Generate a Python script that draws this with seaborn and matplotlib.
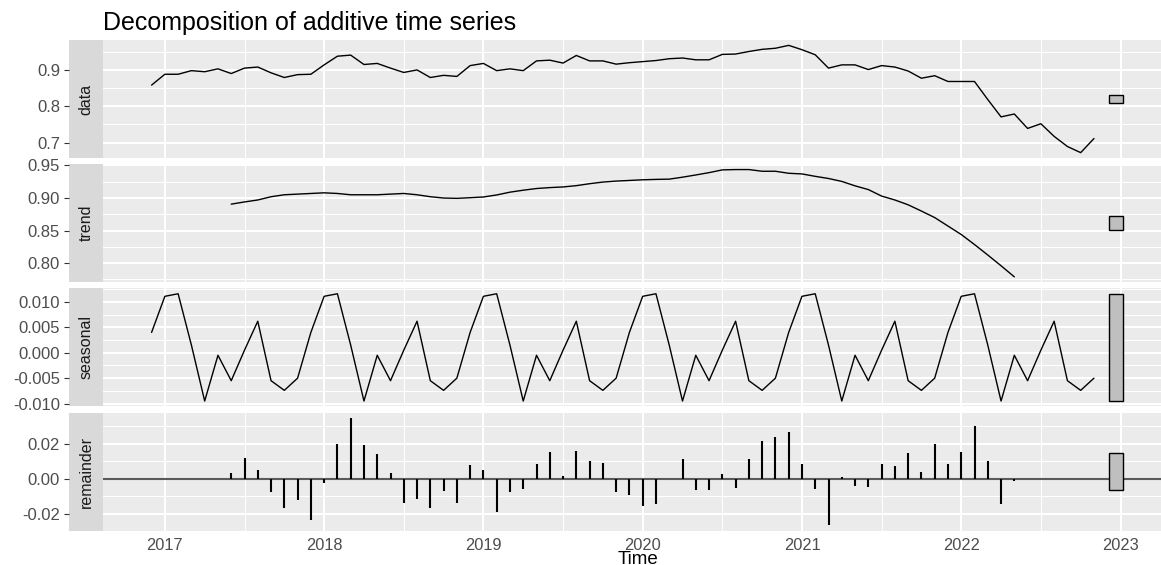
import numpy as np
import pandas as pd
import matplotlib
matplotlib.use("Agg")
import matplotlib.pyplot as plt
import seaborn as sns
from matplotlib.ticker import FixedLocator, FixedFormatter

# ---------------- data (monthly, Dec 2016 .. Nov 2022) ----------------
start_month = "2016-12"
n_months = 72

data_vals = [
    0.859,
    0.889, 0.889, 0.899, 0.896, 0.904, 0.891, 0.906, 0.909, 0.893, 0.880, 0.888, 0.889,
    0.915, 0.939, 0.942, 0.916, 0.919, 0.906, 0.894, 0.901, 0.880, 0.886, 0.883, 0.913,
    0.919, 0.899, 0.904, 0.899, 0.926, 0.928, 0.920, 0.941, 0.926, 0.926, 0.917, 0.921,
    0.924, 0.927, 0.932, 0.934, 0.929, 0.929, 0.944, 0.945, 0.952, 0.958, 0.961, 0.969,
    0.957, 0.943, 0.906, 0.915, 0.915, 0.902, 0.913, 0.909, 0.898, 0.878, 0.885, 0.869,
    0.869, 0.869, 0.819, 0.771, 0.779, 0.739, 0.752, 0.717, 0.689, 0.672, 0.711,
]

trend_vals = [np.nan] * 6 + [
    0.8906, 0.894, 0.897, 0.902, 0.905, 0.906, 0.907,
    0.908, 0.907, 0.905, 0.905, 0.905, 0.906, 0.907, 0.905, 0.902, 0.900, 0.8995, 0.9005,
    0.9016, 0.9047, 0.909, 0.912, 0.9146, 0.916, 0.917, 0.919, 0.922, 0.9245, 0.926, 0.927,
    0.928, 0.9286, 0.929, 0.932, 0.9354, 0.939, 0.9432, 0.9437, 0.9437, 0.9411, 0.9411, 0.938,
    0.937, 0.9333, 0.930, 0.9255, 0.9187, 0.913, 0.903, 0.897, 0.8896, 0.880, 0.870, 0.857,
    0.844, 0.8286, 0.8125, 0.796, 0.779,
] + [np.nan] * 6

seasonal_vals = [
    0.0040,
    0.0111, 0.0116, 0.0015, -0.0095, -0.0005, -0.0055, 0.0005, 0.0062, -0.0055, -0.0074, -0.0050, 0.0040,
    0.0111, 0.0116, 0.0015, -0.0095, -0.0005, -0.0055, 0.0005, 0.0062, -0.0055, -0.0074, -0.0050, 0.0040,
    0.0111, 0.0116, 0.0015, -0.0095, -0.0005, -0.0055, 0.0005, 0.0062, -0.0055, -0.0074, -0.0050, 0.0040,
    0.0111, 0.0116, 0.0015, -0.0095, -0.0005, -0.0055, 0.0005, 0.0062, -0.0055, -0.0074, -0.0050, 0.0040,
    0.0111, 0.0116, 0.0015, -0.0095, -0.0005, -0.0055, 0.0005, 0.0062, -0.0055, -0.0074, -0.0050, 0.0040,
    0.0111, 0.0116, 0.0015, -0.0095, -0.0005, -0.0055, 0.0005, 0.0062, -0.0055, -0.0074, -0.0050,
]

remainder_vals = [np.nan] * 6 + [
    0.0030, 0.0120, 0.0050, -0.0075, -0.0170, -0.0125, -0.0236,
    -0.0025, 0.0196, 0.0346, 0.0190, 0.0142, 0.0030, -0.0138, -0.0115, -0.0170, -0.0070, -0.0138, 0.0079,
    0.0046, -0.0194, -0.0075, -0.0060, 0.0085, 0.0152, 0.0013, 0.0158, 0.0098, 0.0090, -0.0075, -0.0092,
    -0.0156, -0.0144, 0.0000, 0.0113, -0.0065, -0.0065, 0.0025, -0.0056, 0.0113, 0.0217, 0.0240, 0.0263,
    0.0085, -0.0060, -0.0267, 0.0008, -0.0044, -0.0050, 0.0085, 0.0069, 0.0148, 0.0040, 0.0196, 0.0085,
    0.0152, 0.0302, 0.0098, -0.0148, -0.0015,
] + [np.nan] * 6

facet_names = ["data", "trend", "seasonal", "remainder"]
x_tick_years = [2017, 2018, 2019, 2020, 2021, 2022, 2023]
y_ticks = {
    "data": [0.7, 0.8, 0.9],
    "trend": [0.80, 0.85, 0.90, 0.95],
    "seasonal": [-0.010, -0.005, 0.000, 0.005, 0.010],
    "remainder": [-0.02, 0.00, 0.02],
}
y_tick_labels = {
    "data": ["0.7", "0.8", "0.9"],
    "trend": ["0.80", "0.85", "0.90", "0.95"],
    "seasonal": ["-0.010", "-0.005", "0.000", "0.005", "0.010"],
    "remainder": ["-0.02", "0.00", "0.02"],
}
title_text = "Decomposition of additive time series"
x_label = "Time"

# ---------------- frame ----------------
periods = pd.period_range(start_month, periods=n_months, freq="M")
time = periods.year + (periods.month - 1) / 12.0
df = pd.DataFrame({
    "Time": time,
    "data": data_vals,
    "trend": trend_vals,
    "seasonal": seasonal_vals,
    "remainder": remainder_vals,
})

# range bars (as forecast::autoplot does)
ranges = {k: (np.nanmin(df[k]), np.nanmax(df[k])) for k in facet_names}
bar_len = min(hi - lo for lo, hi in ranges.values())
x_lo, x_hi = df["Time"].min(), df["Time"].max()
bar_w = (x_hi - x_lo) / 64.0
bar_left = x_hi + bar_w
bar_right = x_hi + 2 * bar_w
x_span = bar_right - x_lo
xlim = (x_lo - 0.05 * x_span, bar_right + 0.05 * x_span)

# ---------------- style ----------------
sns.set_style("darkgrid")
plt.rcParams["font.family"] = ["Liberation Sans", "DejaVu Sans"]
plt.rcParams["axes.unicode_minus"] = False

W, H = 1161, 565
fig = plt.figure(figsize=(W / 100, H / 100), dpi=100)
fig.patch.set_facecolor("white")

panel_left, panel_right = 103, 1172
strip_left = 69
rows_px = [(40, 158.0), (164.2, 282.2), (288.4, 406.4), (412.6, 530.6)]
PANEL_BG = "#EBEBEB"
STRIP_BG = "#D9D9D9"
TXT = "#4D4D4D"
TICK_C = "#333333"

for i, name in enumerate(facet_names):
    top, bot = rows_px[i]
    ax = fig.add_axes([panel_left / W, 1 - bot / H, (panel_right - panel_left) / W, (bot - top) / H])
    sax = fig.add_axes([strip_left / W, 1 - bot / H, (panel_left - strip_left) / W, (bot - top) / H])

    ax.set_facecolor(PANEL_BG)
    for s in ax.spines.values():
        s.set_visible(False)

    if name == "remainder":
        m = df["remainder"].notna()
        ax.axhline(0, color="#5A5A5A", lw=1.5, zorder=2)
        ax.vlines(df.loc[m, "Time"], 0, df.loc[m, "remainder"], color="black", lw=1.5, zorder=3)
    else:
        sns.lineplot(data=df, x="Time", y=name, ax=ax, color="black", lw=1.0, zorder=3)

    lo, hi = ranges[name]
    mid = (lo + hi) / 2
    ax.bar(bar_left, bar_len, bottom=mid - bar_len / 2, width=bar_w, align="edge",
           color="#BFBFBF", edgecolor="black", linewidth=1.0, zorder=4)

    span = max(hi, mid + bar_len / 2) - min(lo, mid - bar_len / 2)
    ylim = (min(lo, mid - bar_len / 2) - 0.05 * span, max(hi, mid + bar_len / 2) + 0.05 * span)
    ax.set_ylim(ylim)
    ax.set_xlim(xlim)

    yt = y_ticks[name]
    step = yt[1] - yt[0]
    ax.yaxis.set_major_locator(FixedLocator(yt))
    ax.yaxis.set_minor_locator(FixedLocator([yt[0] - step / 2] + [v + step / 2 for v in yt]))
    ax.xaxis.set_major_locator(FixedLocator(x_tick_years))
    ax.xaxis.set_minor_locator(FixedLocator([y - 0.5 for y in x_tick_years] + [x_tick_years[-1] + 0.5]))
    ax.grid(True, which="major", color="white", lw=1.45)
    ax.grid(True, which="minor", color="white", lw=0.75)
    ax.set_axisbelow(True)
    ax.tick_params(axis="y", which="both", length=0, labelleft=False)
    ax.set_ylabel("")
    ax.set_xlabel("")
    if name == "remainder":
        ax.xaxis.set_major_formatter(FixedFormatter([str(y) for y in x_tick_years]))
        ax.tick_params(axis="x", which="major", length=3.8, width=0.8, color=TICK_C,
                       labelsize=11.8, labelcolor=TXT, pad=1.2)
        ax.tick_params(axis="x", which="minor", length=0)
    else:
        ax.tick_params(axis="x", which="both", length=0, labelbottom=False)

    # strip with y axis
    sax.set_facecolor(STRIP_BG)
    for s in sax.spines.values():
        s.set_visible(False)
    sax.grid(False)
    sax.set_xlim(0, 1)
    sax.set_ylim(ylim)
    sax.yaxis.set_major_locator(FixedLocator(yt))
    sax.yaxis.set_major_formatter(FixedFormatter(y_tick_labels[name]))
    sax.tick_params(axis="y", which="major", length=3.8, width=0.8, color=TICK_C,
                    labelsize=12, labelcolor=TXT, pad=2.6, left=True)
    sax.tick_params(axis="x", which="both", length=0, labelbottom=False)
    sax.text(0.5, 0.5, name, rotation=90, ha="center", va="center", transform=sax.transAxes,
             fontsize=11.5, color="#1A1A1A",
             family=["Liberation Sans Narrow", "Liberation Sans", "DejaVu Sans"])

    if name == "remainder":
        cx = (panel_left + panel_right) / 2 / W
        fig.text(cx, 1 - 563.5 / H, x_label, ha="center", va="baseline", fontsize=13.5, color="black")

fig.text(panel_left / W, 1 - 30 / H, title_text, ha="left", va="baseline", fontsize=18, color="black")

fig.savefig("out.png", dpi=100, facecolor="white")
